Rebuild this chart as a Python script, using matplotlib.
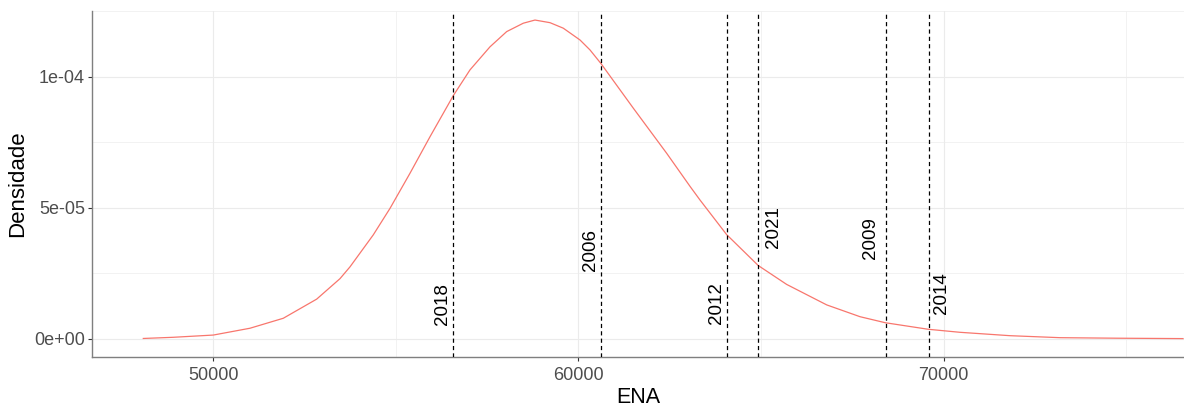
import matplotlib
matplotlib.use("Agg")
import matplotlib.pyplot as plt
from matplotlib.ticker import FixedLocator, FixedFormatter

plt.rcParams['font.family'] = ['Liberation Sans', 'DejaVu Sans']
plt.rcParams['lines.scale_dashes'] = False

# density curve
ena = [48083, 48904, 50000, 51005, 51917, 52832, 53470, 53744, 54382, 54840, 55388,
       55935, 56574, 57031, 57579, 58036, 58491, 58811, 59222, 59586, 60044,
       60318, 60619, 61504, 62418, 63057, 63330, 64060, 64927, 65705, 66801, 67713,
       68406, 69584, 70452, 71821, 73191, 74752, 76560]
dens = [2e-7, 6.5e-7, 1.5e-6, 4.1e-6, 7.9e-6, 1.52e-5, 2.30e-5, 2.75e-5, 3.97e-5, 4.98e-5, 6.32e-5,
        7.71e-5, 9.28e-5, 1.026e-4, 1.114e-4, 1.172e-4, 1.204e-4, 1.216e-4, 1.206e-4, 1.185e-4, 1.140e-4,
        1.102e-4, 1.050e-4, 8.80e-5, 7.08e-5, 5.82e-5, 5.30e-5, 3.98e-5, 2.80e-5, 2.08e-5, 1.30e-5, 8.5e-6,
        6.2e-6, 3.7e-6, 2.55e-6, 1.26e-6, 5e-7, 3e-7, 1.5e-7]

# marked years
years = ['2018', '2006', '2012', '2021', '2009', '2014']
year_ena = [56574, 60619, 64078, 64927, 68417, 69595]
label_y = [1.33e-5, 3.39e-5, 1.36e-5, 4.25e-5, 3.84e-5, 1.74e-5]
label_dx_px = [-10.5, -10.2, -10.3, 15.7, -14.9, 12.5]

x_ticks = [50000, 60000, 70000]
x_minor = [55000, 65000, 75000]
y_ticks = [0, 5e-5, 1e-4]
y_tick_labels = ['0e+00', '5e-05', '1e-04']
y_minor = [2.5e-5, 7.5e-5, 1.25e-4]

fig = plt.figure(figsize=(11.84, 4.08), dpi=100)
ax = fig.add_axes([92/1184, (408-357.3)/408, (1184-92)/1184, (357.3-11)/408])

ax.set_xlim(46678, 76587)
ax.set_ylim(-6.98e-6, 1.2505e-4)

# grid
for v in x_minor:
    ax.axvline(v, color='#F0F0F0', lw=0.6, zorder=0)
for v in y_minor:
    ax.axhline(v, color='#F0F0F0', lw=0.6, zorder=0)
for v in x_ticks:
    ax.axvline(v, color='#EBEBEB', lw=0.8, zorder=0)
for v in y_ticks:
    ax.axhline(v, color='#EBEBEB', lw=0.8, zorder=0)

ax.plot(ena, dens, color='#F8766D', lw=0.9, zorder=2, solid_joinstyle='round')

for yr, xv, yv, dx in zip(years, year_ena, label_y, label_dx_px):
    ax.axvline(xv, color='black', lw=0.9, linestyle=(0, (3.0, 2.3)), zorder=3)
    ax.annotate(yr, xy=(xv, yv), xytext=(dx*0.72, 0), textcoords='offset points',
                rotation=90, ha='center', va='center', fontsize=13.5, color='black')

ax.xaxis.set_major_locator(FixedLocator(x_ticks))
ax.yaxis.set_major_locator(FixedLocator(y_ticks))
ax.yaxis.set_major_formatter(FixedFormatter(y_tick_labels))
ax.tick_params(axis='both', colors='#333333', labelcolor='#4D4D4D', labelsize=13,
               length=3, width=0.8)
ax.tick_params(axis='x', pad=4)
ax.tick_params(axis='y', pad=2)

for s in ['top', 'right']:
    ax.spines[s].set_visible(False)
for s in ['left', 'bottom']:
    ax.spines[s].set_color('#7F7F7F')
    ax.spines[s].set_linewidth(1.0)

ax.set_xlabel('ENA', fontsize=15.5, labelpad=2)
ax.set_ylabel('Densidade', fontsize=16, labelpad=4)

fig.savefig('out.png', dpi=100)
